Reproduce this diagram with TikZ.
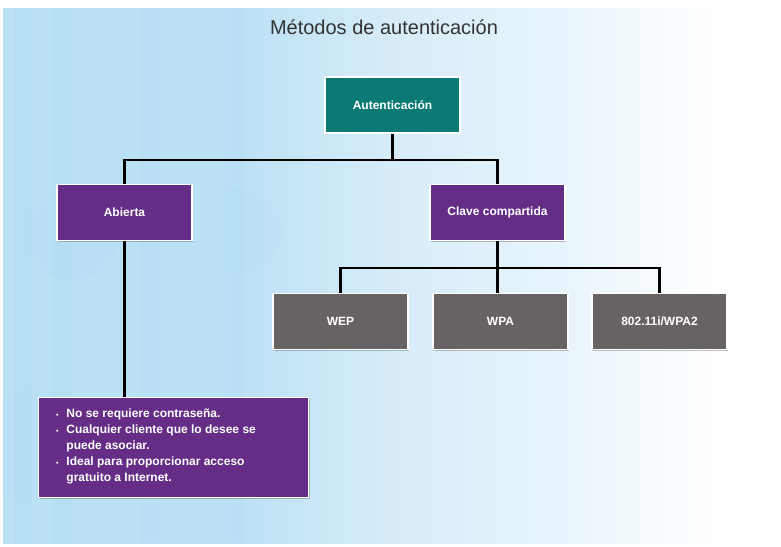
\documentclass[tikz,border=0pt]{standalone}
\usepackage{fontspec}
\setmainfont{Liberation Sans}
\usetikzlibrary{shadows}
\definecolor{bgA}{HTML}{BBE1F4}
\definecolor{bgB}{HTML}{D6ECF8}
\definecolor{bgC}{HTML}{EAF5FB}
\definecolor{stripe}{HTML}{A8D6EE}
\definecolor{tealbox}{HTML}{0B7A75}
\definecolor{purplebox}{HTML}{652D86}
\definecolor{greybox}{HTML}{686363}
\definecolor{titlecol}{HTML}{333333}
\pgfdeclarehorizontalshading{bgshade}{100bp}{color(0bp)=(bgA); color(25bp)=(bgA); color(40bp)=(bgA); color(50bp)=(bgB); color(62bp)=(bgC); color(71bp)=(white); color(100bp)=(white)}
\pgfdeclarelayer{bg}
\pgfdeclarelayer{lines}
\pgfsetlayers{bg,lines,main}
\tikzset{
  boxbase/.style={draw=white, line width=1.5pt, text=white,
    drop shadow={shadow xshift=1pt, shadow yshift=-1.2pt, opacity=0.35, fill=black!70},
    font=\bfseries\fontsize{12}{14}\selectfont, inner sep=0pt},
  catbox/.style={boxbase, minimum width=135pt, minimum height=56pt},
  conn/.style={line width=2.8pt, draw=black, line join=miter},
}
\begin{document}
\begin{tikzpicture}[x=1pt, y=-1pt]
\useasboundingbox (0,0) rectangle (781,546);
\begin{pgfonlayer}{bg}
  \fill[white] (0,0) rectangle (781,546);
  \shade[shading=bgshade] (3,8) rectangle (781,543);
  \begin{scope}
    \clip (3,8) rectangle (781,543);
    \fill[stripe, opacity=0.25] (14,8) rectangle (32,543);
    \fill[stripe, opacity=0.18] (52,8) rectangle (72,543);
    \fill[stripe, opacity=0.15] (140,8) rectangle (160,543);
    \fill[stripe, opacity=0.12] (225,8) rectangle (245,543);
    \fill[stripe, opacity=0.12] (72,235) circle (46);
    \fill[stripe, opacity=0.08] (240,230) circle (42);
    \fill[stripe, opacity=0.12] (35,445) circle (55);
  \end{scope}
\end{pgfonlayer}

\node[font=\fontsize{20}{24}\selectfont, text=titlecol] (title) at (384,27) {Métodos de autenticación};

\node[catbox, fill=tealbox] (auth) at (392.5,105) {Autenticación};
\node[catbox, fill=purplebox] (abierta) at (124.5,212.5) {Abierta};
\node[catbox, fill=purplebox] (clave) at (497.5,212.5) {Clave compartida};
\node[catbox, fill=greybox] (wep) at (340.5,321.5) {WEP};
\node[catbox, fill=greybox] (wpa) at (500.5,321.5) {WPA};
\node[catbox, fill=greybox] (wpa2) at (659.5,321.5) {802.11i/WPA2};

\node[boxbase, fill=purplebox, minimum width=270pt, minimum height=100pt,
      font=\bfseries\fontsize{12}{16}\selectfont] (desc) at (173.5,447.5)
  {\parbox{235pt}{\vspace*{-3pt}\begin{tabular}{@{}l@{\hspace{8pt}}l@{}}
   {\fontsize{7}{7}\selectfont\textbullet} & No se requiere contraseña.\\
   {\fontsize{7}{7}\selectfont\textbullet} & Cualquier cliente que lo desee se\\
   & puede asociar.\\
   {\fontsize{7}{7}\selectfont\textbullet} & Ideal para proporcionar acceso\\
   & gratuito a Internet.
  \end{tabular}}};

\begin{pgfonlayer}{lines}
  \coordinate (j1) at (auth.south |- 0,160);
  \draw[conn] (auth.south) -- (j1);
  \draw[conn] (abierta.north) |- (j1) -| (clave.north);
  \coordinate (j2) at (clave.south |- 0,268);
  \draw[conn] (clave.south) -- (clave.south |- wpa.north);
  \draw[conn] (wep.north) |- (j2) -| (wpa2.north);
  \draw[conn] (abierta.south) -- (abierta.south |- desc.north);
\end{pgfonlayer}
\end{tikzpicture}
\end{document}
